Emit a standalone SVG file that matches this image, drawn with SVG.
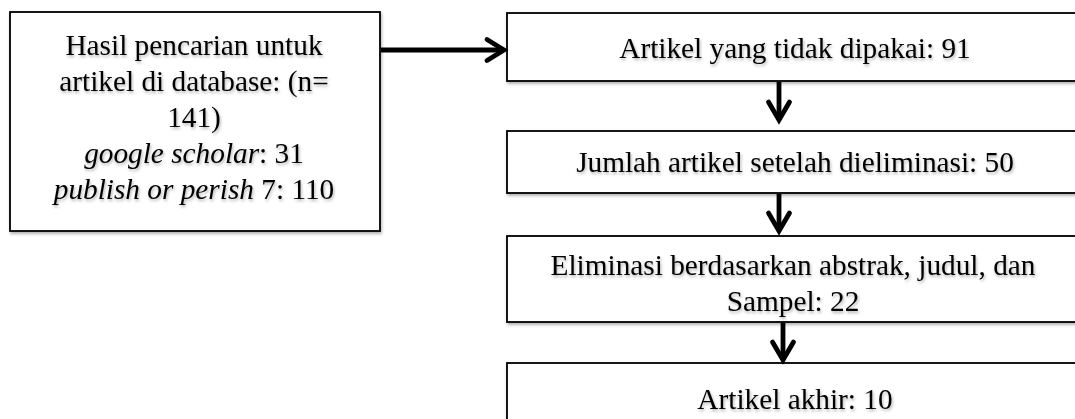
<svg xmlns="http://www.w3.org/2000/svg" width="1075" height="419" viewBox="0 0 1075 419">
  <defs>
    <filter id="sh" x="-10%" y="-10%" width="130%" height="140%">
      <feDropShadow dx="1" dy="2" stdDeviation="1.5" flood-color="#000" flood-opacity="0.3"/>
    </filter>
  </defs>
  <style>
    .box { fill: #ffffff; stroke: #000000; stroke-width: 1.8; filter: url(#sh); }
    .t { font-family: "Liberation Serif", "Times New Roman", serif; font-size: 29.3px; fill: #000; text-anchor: middle; filter: url(#sh); }
    .conn { fill: none; stroke: #000; stroke-width: 4.8; stroke-linecap: butt; stroke-linejoin: miter; }
    .head { fill: none; stroke: #000; stroke-width: 4.8; stroke-linecap: round; stroke-linejoin: miter; }
  </style>

  <g id="node-search">
    <rect class="box" x="10" y="12" width="370" height="219"/>
    <text class="t" x="194" y="54.5">Hasil pencarian untuk</text>
    <text class="t" x="194" y="90.7">artikel di database: (n=</text>
    <text class="t" x="194" y="126.9">141)</text>
    <text class="t" x="194" y="163.1"><tspan font-style="italic">google scholar</tspan>: 31</text>
    <text class="t" x="194" y="199.3"><tspan font-style="italic">publish or perish</tspan> 7: 110</text>
  </g>

  <g id="node-unused">
    <rect class="box" x="507" y="13" width="580" height="68"/>
    <text class="t" x="795" y="58">Artikel yang tidak dipakai: 91</text>
  </g>

  <g id="node-eliminated">
    <rect class="box" x="507" y="131" width="580" height="62"/>
    <text class="t" x="795" y="172">Jumlah artikel setelah dieliminasi: 50</text>
  </g>

  <g id="node-abstract">
    <rect class="box" x="507" y="236" width="580" height="86"/>
    <text class="t" x="793" y="275">Eliminasi berdasarkan abstrak, judul, dan</text>
    <text class="t" x="793" y="311">Sampel: 22</text>
  </g>

  <g id="node-final">
    <rect class="box" x="507" y="363" width="580" height="70"/>
    <text class="t" x="795" y="409">Artikel akhir: 10</text>
  </g>

  <g id="connectors">
    <line class="conn" x1="381" y1="50" x2="503" y2="50"/>
    <polyline class="head" points="487,39.5 504,50 487,60.5"/>

    <line class="conn" x1="779" y1="82" x2="779" y2="119"/>
    <polyline class="head" points="768.5,102 779,120 789.5,102"/>

    <line class="conn" x1="779" y1="194" x2="779" y2="230"/>
    <polyline class="head" points="768.5,213 779,231 789.5,213"/>

    <line class="conn" x1="783" y1="323" x2="783" y2="359"/>
    <polyline class="head" points="772.5,342 783,360 793.5,342"/>
  </g>
</svg>
